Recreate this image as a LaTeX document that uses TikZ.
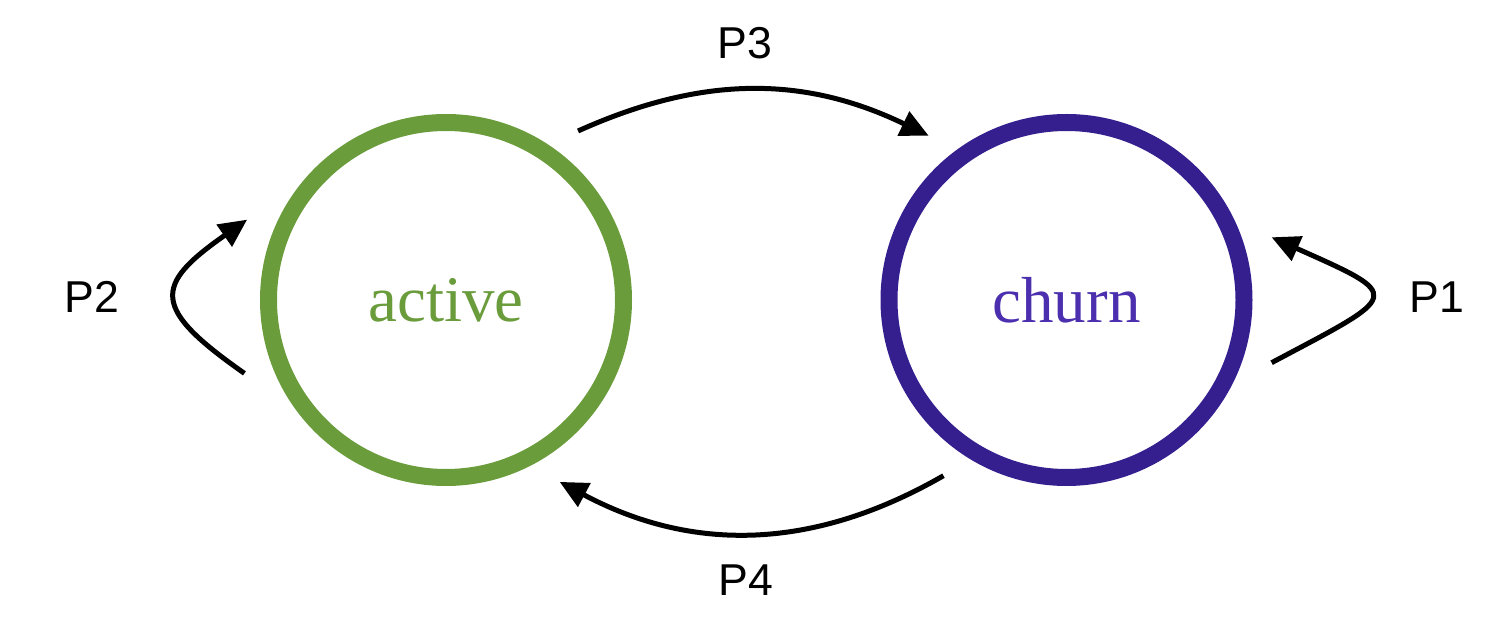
\documentclass[tikz,border=0pt]{standalone}
\usepackage{fontspec}
\setmainfont{Liberation Serif}
\newfontfamily\labelfont{Liberation Sans}
\usetikzlibrary{arrows.meta,positioning}

\definecolor{activegreen}{HTML}{6A9C3C}
\definecolor{churnring}{HTML}{351F8F}
\definecolor{churntext}{HTML}{4B2FAE}

\tikzset{
  state/.style={circle, inner sep=0pt, minimum size=3.55cm, line width=0.17cm, outer sep=0.37cm,
    font=\fontsize{18.5}{22}\selectfont},
  trans/.style={line width=0.05cm, -{Triangle[length=0.28cm, width=0.26cm]}},
  prob/.style={font=\labelfont\fontsize{12.7}{15}\selectfont}
}

\begin{document}
\begin{tikzpicture}
  \useasboundingbox (0,0) rectangle (15.06,-6.18);
  \node (active) at (4.46,-3.00) [state, draw=activegreen, text=activegreen] {active};
  \node (churn) at (10.665,-3.00) [state, draw=churnring, text=churntext] {churn};
  \node (p3) at (7.45,-0.43) [prob] {P3};
  \node (p4) at (7.46,-5.80) [prob] {P4};
  \node (p2) at (0.92,-2.97) [prob] {P2};
  \node (p1) at (14.37,-2.97) [prob] {P1};
  % transitions between states
  \draw[trans] (active.52) to[bend left=25] (churn.130);
  \draw[trans] (churn.235) to[bend left=29] (active.302);
  % self loops
  \draw[trans] (active.200) to[out=145, in=215, looseness=1.9] (active.158);
  \draw[trans] (churn.343) to[out=28, in=336, looseness=3] (churn.17);
\end{tikzpicture}
\end{document}
